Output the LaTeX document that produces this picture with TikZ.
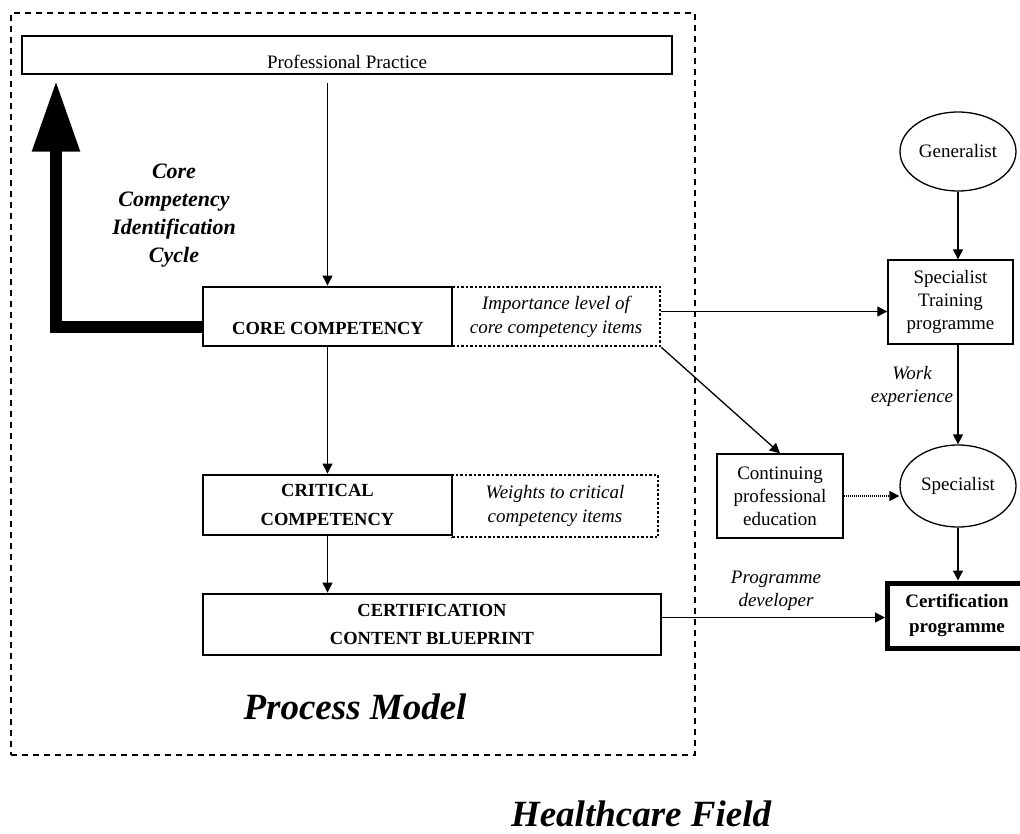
\documentclass[tikz,border=0pt]{standalone}
\usepackage{fontspec}
\setmainfont{Liberation Serif}
\usetikzlibrary{shapes.geometric,arrows.meta}

\tikzset{
  conn/.style={line width=1.3pt, -{Triangle[length=10pt,width=10pt]}},
  thinbox/.style={draw, line width=1.4pt, inner sep=0pt, align=center,
                  font=\fontsize{19}{23}\selectfont},
  boldbox/.style={draw, line width=2.9pt, inner sep=0pt, align=center,
                  font=\fontsize{18.5}{28.5}\selectfont\bfseries},
  heavybox/.style={draw, line width=5pt, inner sep=0pt, align=center,
                  font=\fontsize{19}{25}\selectfont\bfseries},
  dotbox/.style={draw, line width=2.6pt, dash pattern=on 2.5pt off 2pt,
                 inner sep=0pt, align=center,
                 font=\fontsize{19}{24}\selectfont\itshape},
  oval/.style={ellipse, draw, line width=1.3pt, inner sep=0pt,
               font=\fontsize{19}{23}\selectfont},
  note/.style={align=center, inner sep=0pt, font=\fontsize{19}{23}\selectfont\itshape},
  caption/.style={inner sep=0pt, font=\fontsize{37}{40}\selectfont\bfseries\itshape},
}

\begin{document}
\begin{tikzpicture}[x=1pt,y=-1pt]
\useasboundingbox (0,0) rectangle (1020,834);
\fill[white] (0,0) rectangle (1020,834);

% process model frame
\node[draw, line width=1.1pt, dash pattern=on 6pt off 5pt,
      minimum width=684pt, minimum height=742pt] (frame) at (353,384) {};

% professional practice bar
\node[thinbox, minimum width=650pt, minimum height=38pt] (pp) at (347,55) {};
\node[inner sep=0pt, font=\fontsize{19}{23}\selectfont] (pptext) at (347,62) {Professional Practice};

% dotted annotation boxes (drawn first so the solid edges stay on top)
\node[dotbox, minimum width=208pt, minimum height=59pt] (imp) at (556,316.5)
  {Importance level of\\core competency items};
\node[dotbox, minimum width=206pt, minimum height=62pt] (wts) at (555,506)
  {Weights to critical\\competency items};

% process boxes
\node[boldbox, minimum width=249pt, minimum height=59pt] (core) at (327.5,316.5) {};
\node[inner sep=0pt, font=\fontsize{18.5}{23}\selectfont\bfseries] (coretext) at (328,328) {CORE COMPETENCY};
\node[boldbox, minimum width=249pt, minimum height=60pt] (crit) at (327.5,505)
  {CRITICAL\\COMPETENCY};
\node[boldbox, minimum width=458pt, minimum height=61pt] (bp) at (432,624.5)
  {CERTIFICATION\\CONTENT BLUEPRINT};

% healthcare field
\node[oval, minimum width=116pt, minimum height=79pt] (gen) at (958,151.5) {Generalist};
\node[thinbox, minimum width=125pt, minimum height=84pt] (train) at (950.5,302)
  {Specialist\\Training\\programme};
\node[oval, minimum width=116pt, minimum height=82pt] (spec) at (958,486) {Specialist};
\node[thinbox, minimum width=126pt, minimum height=84pt] (cont) at (780,496)
  {Continuing\\professional\\education};
\node[heavybox, minimum width=139pt, minimum height=65pt] (cert) at (957,615.5)
  {Certification\\programme};

% labels
\node[align=center, inner sep=0pt, font=\fontsize{22}{28}\selectfont\bfseries\itshape]
  (cyclelabel) at (174,216) {Core\\Competency\\Identification\\Cycle};
\node[note] (work) at (912,386) {Work\\experience};
\node[note] (dev) at (776,591) {Programme\\developer};
\node[caption] (pm) at (355,707) {Process Model};
\node[caption] (hf) at (641,814) {Healthcare Field};

% identification cycle arrow
\coordinate (bend) at (56,327);
\draw[line width=12pt, line join=miter, -{Triangle[length=71pt,width=45pt]}]
  (core.west |- bend) -- (bend) -- ([yshift=-6pt]bend |- pp.south);

% connectors
\draw[conn] ([yshift=-8pt]core.north |- pp.south) -- (core.north);
\draw[conn] (core.south) -- (crit.north);
\draw[conn] (crit.south) -- (crit.south |- bp.north);
\draw[conn] ([yshift=5pt]imp.east) -- ([yshift=5pt]imp.east -| train.west);
\draw[conn] (imp.south east) -- (cont.north);
\draw[conn] (gen.south) -- (gen.south |- train.north);
\draw[conn] (train.south -| spec.north) -- (spec.north);
\draw[conn] (spec.south) -- (spec.south |- cert.north);
\draw[conn] ([yshift=7pt]bp.east) -- ([yshift=7pt]bp.east -| cert.west);
\draw[conn, dash pattern=on 1pt off 1pt] (cont.east) -- (cont.east -| spec.west);
\end{tikzpicture}
\end{document}
